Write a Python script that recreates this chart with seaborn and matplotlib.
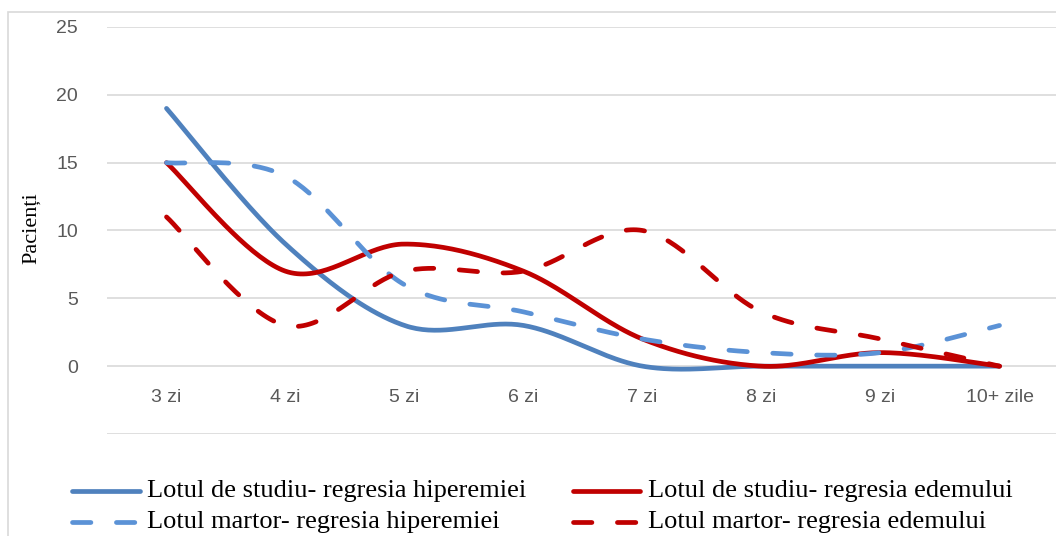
import numpy as np
import pandas as pd
import matplotlib
matplotlib.use("Agg")
import matplotlib.pyplot as plt
from matplotlib.patches import Rectangle
from matplotlib.lines import Line2D
import seaborn as sns

categories = ["3 zi", "4 zi", "5 zi", "6 zi", "7 zi", "8 zi", "9 zi", "10+ zile"]
studiu_hiperemie = [19, 9, 3, 3, 0, 0, 0, 0]
studiu_edem = [15, 7, 9, 7, 2, 0, 1, 0]
martor_hiperemie = [15, 14, 6, 4, 2, 1, 1, 3]
martor_edem = [11, 3, 7, 7, 10, 4, 2, 0]

series_names = [
    "Lotul de studiu- regresia hiperemiei",
    "Lotul de studiu- regresia edemului",
    "Lotul martor- regresia hiperemiei",
    "Lotul martor- regresia edemului",
]
series_values = [studiu_hiperemie, studiu_edem, martor_hiperemie, martor_edem]
colors = ["#4F81BD", "#C00000", "#5B92D6", "#C00000"]
dashed = [False, False, True, True]
DASH = (0, (3.9, 5.4))
LW = 3.4


def smooth(y, n=40):
    """Catmull-Rom style bezier smoothing (like Excel's smoothed line)."""
    y = np.asarray(y, float)
    x = np.arange(len(y), dtype=float)
    pts = np.column_stack([x, y])
    out = []
    for i in range(len(pts) - 1):
        p0 = pts[i - 1] if i > 0 else pts[i]
        p1 = pts[i]
        p2 = pts[i + 1]
        p3 = pts[i + 2] if i + 2 < len(pts) else pts[i + 1]
        c1 = p1 + (p2 - p0) / 6.0
        c2 = p2 - (p3 - p1) / 6.0
        t = np.linspace(0, 1, n, endpoint=(i == len(pts) - 2))[:, None]
        b = ((1 - t) ** 3) * p1 + 3 * ((1 - t) ** 2) * t * c1 + 3 * (1 - t) * t ** 2 * c2 + t ** 3 * p2
        out.append(b)
    return np.vstack(out)


sns.set_theme(style="white")
plt.rcParams["font.family"] = ["Liberation Sans", "DejaVu Sans"]

W, H = 1056, 536
fig = plt.figure(figsize=(W / 100, H / 100), dpi=100)
ax = fig.add_axes([107 / W, 1 - 434 / H, (1059 - 107) / W, (434 - 27) / H])

for name, vals, col, d in zip(series_names, series_values, colors, dashed):
    pts = smooth(vals)
    df = pd.DataFrame({"x": pts[:, 0], "y": pts[:, 1]})
    kw = dict(linewidth=LW, solid_capstyle="round", solid_joinstyle="round")
    if d:
        kw.update(linestyle=DASH, dash_capstyle="round")
    sns.lineplot(data=df, x="x", y="y", ax=ax, color=col, sort=False, estimator=None, **kw)
    ax.lines[-1].set_zorder(3)

ax.set_xlim(-0.5, len(categories) - 0.5)
ax.set_ylim(-5, 25)
ax.set_yticks([-5, 0, 5, 10, 15, 20, 25])
ax.set_yticklabels(["", "0", "5", "10", "15", "20", "25"])
ax.grid(axis="y", color="#D9D9D9", linewidth=1.2)
ax.set_axisbelow(True)
for s in ax.spines.values():
    s.set_visible(False)
ax.tick_params(axis="y", length=0, pad=21, labelsize=14, labelcolor="#595959")

ax.set_xticks([])
ax.set_xlabel("")
ax.set_ylabel("")
for i, c in enumerate(categories):
    ax.text(i, -2.3, c, ha="center", va="center", fontsize=14, color="#595959")

fig.text(32 / W, 1 - 228 / H, "Pacienți", rotation=90, ha="center", va="center",
         fontsize=16, family=["Liberation Serif", "DejaVu Serif"], color="black")

# legend drawn manually in figure pixel positions
leg_cols = [(72, 140, 147), (573, 640, 648)]
leg_rows = [491, 522]
slots = [(0, 0), (0, 1), (1, 0), (1, 1)]  # (row, col) for each series
for (r, c), name, col, d in zip(slots, series_names, colors, dashed):
    x0, x1, tx = leg_cols[c]
    y = 1 - leg_rows[r] / H
    ln = Line2D([x0 / W, x1 / W], [y, y], transform=fig.transFigure, color=col, linewidth=LW,
                linestyle=DASH if d else "-", dash_capstyle="round", solid_capstyle="round")
    fig.lines.append(ln)
    fig.text(tx / W, y, name, ha="left", va="center", fontsize=19,
             family=["Liberation Serif", "DejaVu Serif"], color="black")

fig.patches.append(Rectangle((8 / W, -0.1), 1.2, 1 - 12 / H + 0.1, transform=fig.transFigure,
                             fill=False, edgecolor="#D9D9D9", linewidth=1.2))

fig.savefig("out.png", dpi=100)
